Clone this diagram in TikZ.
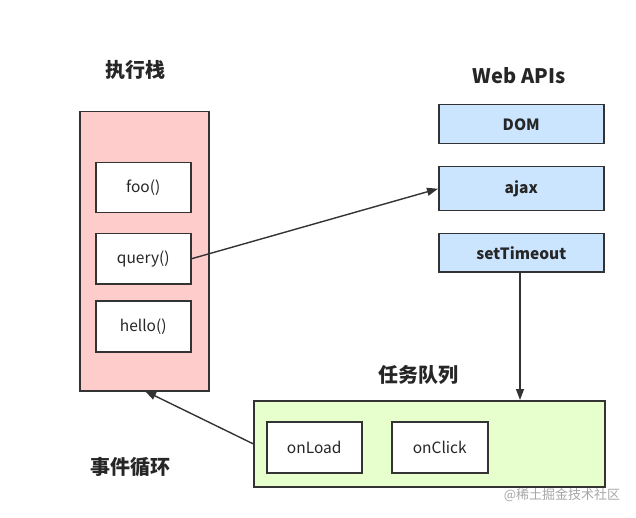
\documentclass[tikz,border=0pt]{standalone}
\usepackage{fontspec}
\setmainfont{Noto Sans CJK SC}
\usetikzlibrary{arrows.meta}
\definecolor{stackpink}{HTML}{FFCCCC}
\definecolor{apiblue}{HTML}{CCE5FF}
\definecolor{queuegreen}{HTML}{E6FFCC}
\definecolor{linegray}{HTML}{333333}
\tikzset{
  box/.style={draw=linegray, line width=1.5pt, rectangle, inner sep=0pt, anchor=north west},
  itembox/.style={box, fill=white, minimum width=95pt, minimum height=50pt, font=\fontsize{15.5}{17}\selectfont, text=black!85},
  apibox/.style={box, fill=apiblue, minimum width=165pt, font=\fontsize{15.5}{17}\selectfont\bfseries, text=black!85},
  title/.style={font=\fontsize{20}{22}\selectfont\bfseries, text=black!85},
  conn/.style={draw=linegray, line width=1.4pt, -{Triangle[length=11pt,width=8pt]}}
}
\begin{document}
\begin{tikzpicture}[x=1pt,y=-1pt]
\useasboundingbox (0,0) rectangle (636,518);
% execution stack
\node[box, fill=stackpink, minimum width=129pt, minimum height=279pt] (stack) at (79,111) {};
\node[itembox] (foo) at (95,162) {foo()};
\node[itembox] (query) at (95,233) {query()};
\node[itembox, minimum height=51pt] (hello) at (95,300) {hello()};
\node[title] (stackt) at (135,70) {执行栈};
% web apis
\node[title] (apit) at (519,76) {Web APIs};
\node[apibox, minimum height=39pt] (dom) at (438,104) {DOM};
\node[apibox, minimum height=44pt] (ajax) at (438,166) {ajax};
\node[apibox, minimum height=38pt] (st) at (438,233) {setTimeout};
% queue
\node[title] (queuet) at (418,375) {任务队列};
\node[box, fill=queuegreen, minimum width=351pt, minimum height=86pt] (queue) at (253,400) {};
\node[itembox, minimum height=51pt] (onload) at (266,421) {onLoad};
\node[itembox, minimum width=96pt, minimum height=51pt] (onclick) at (391,421) {onClick};
\node[title] (loopt) at (130,467) {事件循环};
% connectors
\coordinate (stbot) at (520,271);
\coordinate (qtop) at (520,400);
\draw[conn] (query.east) -- (ajax.west);
\draw[conn] (stbot) -- (qtop);
\draw[conn] (queue.west) -- (145,391);
% watermark
\node[text=black!35, font=\fontsize{13}{14}\selectfont] (wm) at (562,495) {@稀土掘金技术社区};
\end{tikzpicture}
\end{document}
